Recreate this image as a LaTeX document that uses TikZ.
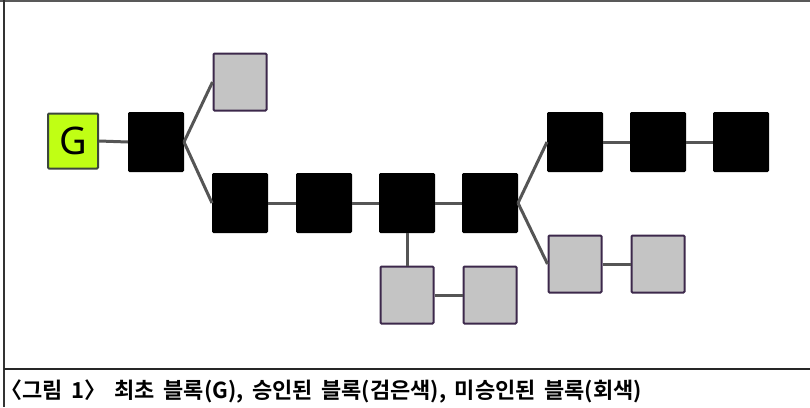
\documentclass[tikz,border=0pt]{standalone}
\usepackage{fontspec}
\newfontfamily\krfont{Noto Sans CJK KR}[BoldFont={* Bold}]
\newfontfamily\gfont{Noto Sans}
\definecolor{gen}{RGB}{192,255,20}
\definecolor{genedge}{RGB}{60,70,60}
\definecolor{greyfill}{RGB}{196,196,196}
\definecolor{greyedge}{RGB}{60,40,75}
\definecolor{linkc}{RGB}{85,85,85}
\newcommand{\halfbr}[1]{{\addfontfeature{RawFeature=+halt}#1}}
\begin{document}
\begin{tikzpicture}[x=1pt,y=-1pt,
  blk/.style={draw=black,fill=black,line width=1pt,minimum width=55pt,minimum height=59pt,inner sep=0pt,rounded corners=1pt},
  unc/.style={draw=greyedge,fill=greyfill,line width=2pt,minimum width=53pt,minimum height=57pt,inner sep=0pt,rounded corners=1pt},
  genesis/.style={draw=genedge,fill=gen,line width=2pt,minimum width=50pt,minimum height=55pt,inner sep=0pt,rounded corners=1pt,font=\gfont\fontsize{38}{40}\selectfont},
  link/.style={draw=linkc,line width=3pt}]
\useasboundingbox (0,0) rectangle (810,407);
\fill[white] (0,0) rectangle (810,407);
% frame
\draw[gray!70!black,line width=1.5pt] (0,0.75) -- (810,0.75);
\draw[black!80,line width=2pt] (4,0) -- (4,407);
\draw[black!85,line width=2pt] (4,369) -- (810,369);
\node[genesis] (G) at (73,141) {G};
\node[blk] (b1) at (156,142) {};
\node[unc] (u1) at (240,82) {};
\node[blk] (b2) at (240,203) {};
\node[blk] (b3) at (324,203) {};
\node[blk] (b4) at (407,203) {};
\node[blk] (b5) at (490,203) {};
\node[unc] (u2) at (407,295) {};
\node[unc] (u3) at (490,295) {};
\node[blk] (b6) at (575,142) {};
\node[blk] (b7) at (658,142) {};
\node[blk] (b8) at (741,142) {};
\node[unc] (u4) at (575,264) {};
\node[unc] (u5) at (658,264) {};
\draw[link] (G.east) -- (b1.west);
\draw[link] (b1.east) -- (u1.west);
\draw[link] (b1.east) -- (b2.west);
\draw[link] (b2.east) -- (b3.west);
\draw[link] (b3.east) -- (b4.west);
\draw[link] (b4.east) -- (b5.west);
\draw[link] (b4.south) -- (u2.north);
\draw[link] (u2.east) -- (u3.west);
\draw[link] (b5.east) -- (b6.west);
\draw[link] (b5.east) -- (u4.west);
\draw[link] (b6.east) -- (b7.west);
\draw[link] (b7.east) -- (b8.west);
\draw[link] (u4.east) -- (u5.west);
% caption
\node[anchor=base west,inner sep=0pt,font=\krfont\bfseries\fontsize{22}{25}\selectfont] (cap) at (11,398) {\spaceskip=8.5pt\relax\halfbr{〈}그림 1〉 최초 블록(G), 승인된 블록(검은색), 미승인된 블록(회색)};
\end{tikzpicture}
\end{document}
